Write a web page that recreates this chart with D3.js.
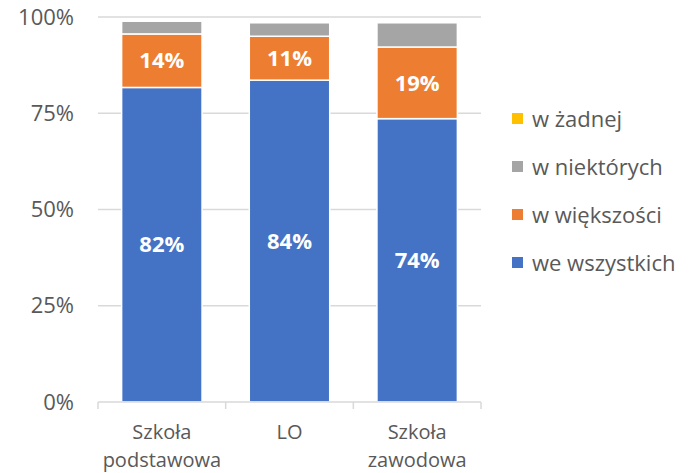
<!DOCTYPE html>
<html lang="pl">
<head>
<meta charset="UTF-8">
<title>szkoly</title>
<script src="https://d3js.org/d3.v7.min.js"></script>
<style>
    body { margin: 0; background: #fff; }
    text { font-family: "Open Sans", "Noto Sans", sans-serif; }
</style>
</head>
<body>
<script>
// categories and series (percent)
var categories = [["Szkoła", "podstawowa"], ["LO"], ["Szkoła", "zawodowa"]];
var seriesNames = ["we wszystkich", "w większości", "w niektórych", "w żadnej"];
var weWszystkich = [81.7, 83.6, 73.6];
var wWiekszosci = [13.9, 11.4, 18.6];
var wNiektorych = [3.3, 3.5, 6.3];
var wZadnej = [0, 0, 0];
var colors = ["#4472C4", "#ED7D31", "#A5A5A5", "#FFC000"];
var yTicks = [0, 25, 50, 75, 100];

var width = 690, height = 473;

var rows = categories.map(function (c, i) {
    return { cat: i, s0: weWszystkich[i], s1: wWiekszosci[i], s2: wNiektorych[i], s3: wZadnej[i] };
});

var stack = d3.stack().keys(["s0", "s1", "s2", "s3"]);
var series = stack(rows);

var x = d3.scaleBand()
    .domain(d3.range(categories.length))
    .range([98, 481])
    .paddingInner(0.37)
    .paddingOuter(0.185);

var y = d3.scaleLinear().domain([0, 100]).range([402, 17]);

var svg = d3.select("body").append("svg")
    .attr("width", width)
    .attr("height", height);

// gridlines
svg.append("g").selectAll("line")
    .data(yTicks.slice(1))
    .enter().append("line")
    .attr("x1", 98).attr("x2", 481)
    .attr("y1", function (d) { return y(d); })
    .attr("y2", function (d) { return y(d); })
    .attr("stroke", "#D9D9D9")
    .attr("stroke-width", 1.5);

// y labels
svg.append("g").selectAll("text")
    .data(yTicks)
    .enter().append("text")
    .attr("x", 74)
    .attr("y", function (d) { return y(d); })
    .attr("dy", "0.35em")
    .attr("text-anchor", "end")
    .attr("fill", "#595959")
    .style("font-size", "22px")
    .text(function (d) { return d + "%"; });

// bars
var layer = svg.append("g").selectAll("g")
    .data(series)
    .enter().append("g")
    .attr("fill", function (d, i) { return colors[i]; });

layer.selectAll("rect")
    .data(function (d) { return d; })
    .enter().append("rect")
    .attr("x", function (d) { return x(d.data.cat); })
    .attr("width", x.bandwidth())
    .attr("y", function (d) { return y(d[1]); })
    .attr("height", function (d) { return Math.max(0, y(d[0]) - y(d[1])); })
    .attr("stroke", "#fff")
    .attr("stroke-width", 1.5);

// data labels (only the two big series)
series.slice(0, 2).forEach(function (s) {
    svg.append("g").selectAll("text")
        .data(s)
        .enter().append("text")
        .attr("x", function (d) { return x(d.data.cat) + x.bandwidth() / 2; })
        .attr("y", function (d) { return y((d[0] + d[1]) / 2); })
        .attr("dy", "0.35em")
        .attr("text-anchor", "middle")
        .attr("fill", "#fff")
        .style("font-size", "22px")
        .style("font-weight", "bold")
        .text(function (d) { return Math.round(d[1] - d[0]) + "%"; });
});

// x axis line and ticks
var axisG = svg.append("g").attr("stroke", "#D9D9D9").attr("stroke-width", 1.5);
axisG.append("line").attr("x1", 98).attr("x2", 481).attr("y1", 402).attr("y2", 402);
var step = x.step();
axisG.selectAll("line.tick")
    .data(d3.range(categories.length + 1))
    .enter().append("line")
    .attr("class", "tick")
    .attr("x1", function (d) { return 98 + d * step; })
    .attr("x2", function (d) { return 98 + d * step; })
    .attr("y1", 402).attr("y2", 409);

// category labels, one text per line
var catG = svg.append("g").selectAll("g")
    .data(categories)
    .enter().append("g")
    .attr("transform", function (d, i) { return "translate(" + (x(i) + x.bandwidth() / 2) + ",0)"; });

catG.selectAll("text")
    .data(function (d) { return d; })
    .enter().append("text")
    .attr("text-anchor", "middle")
    .attr("fill", "#595959")
    .style("font-size", "20px")
    .attr("y", function (d, i) { return 439 + i * 28; })
    .text(function (d) { return d; });

// legend (reversed order)
var legend = svg.append("g").selectAll("g")
    .data(seriesNames.map(function (n, i) { return { name: n, color: colors[i] }; }).reverse())
    .enter().append("g")
    .attr("transform", function (d, i) { return "translate(512," + (119 + i * 48) + ")"; });

legend.append("rect")
    .attr("x", 0).attr("y", -6)
    .attr("width", 11).attr("height", 11)
    .attr("fill", function (d) { return d.color; });

legend.append("text")
    .attr("x", 20)
    .attr("dy", "0.35em")
    .attr("fill", "#595959")
    .style("font-size", "22px")
    .text(function (d) { return d.name; });
</script>
</body>
</html>
